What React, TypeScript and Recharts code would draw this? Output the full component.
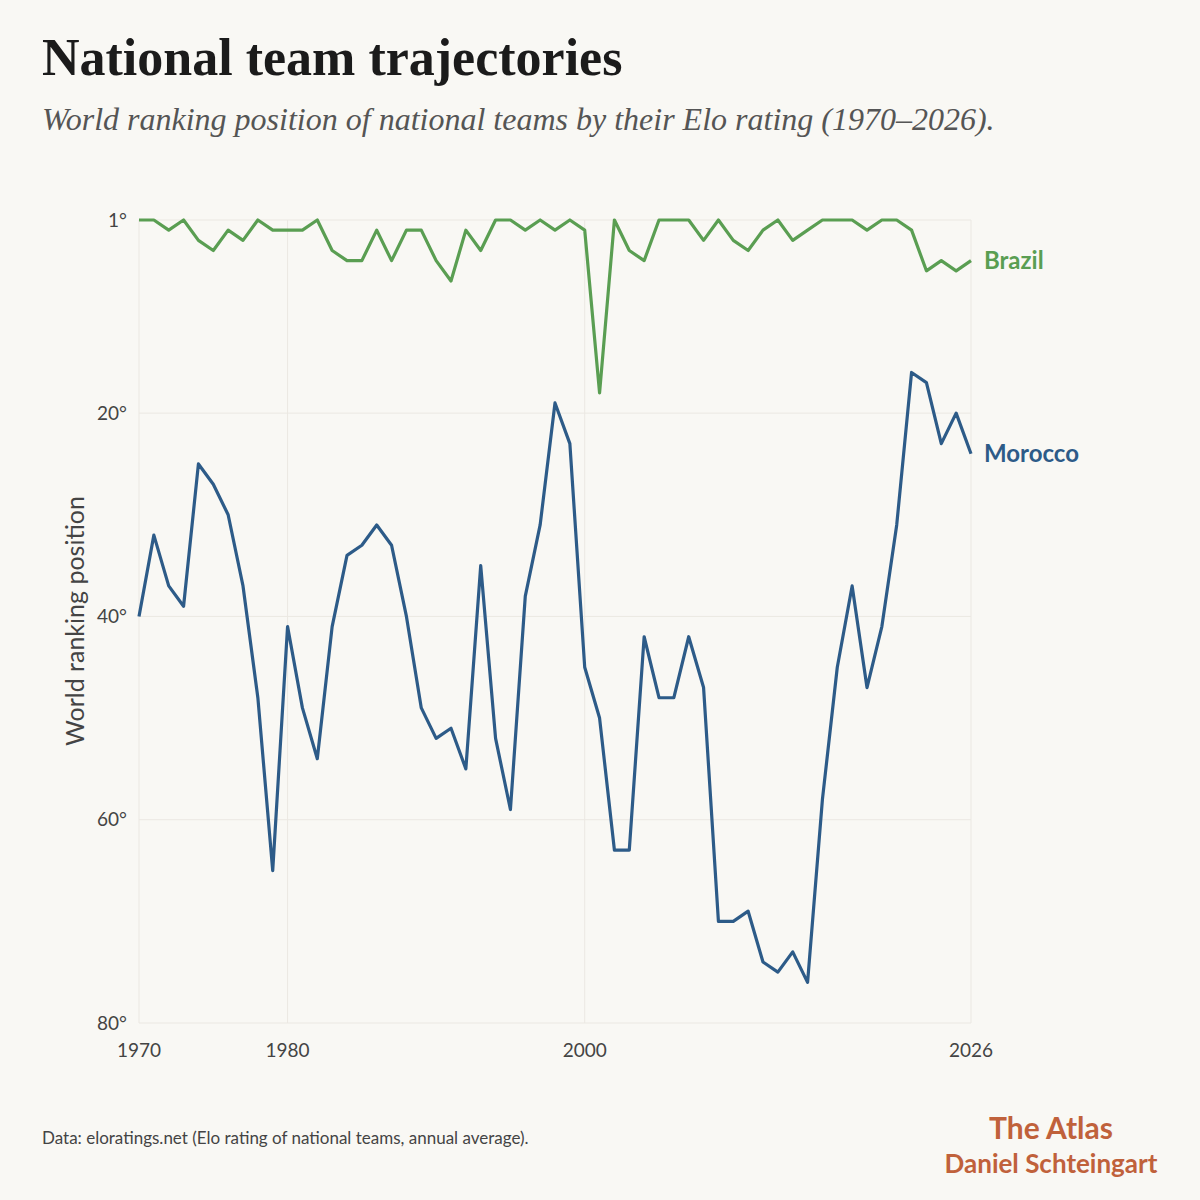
import { CartesianGrid, Line, LineChart, XAxis, YAxis } from "recharts";

const years = [
  1970, 1971, 1972, 1973, 1974, 1975, 1976, 1977, 1978, 1979,
  1980, 1981, 1982, 1983, 1984, 1985, 1986, 1987, 1988, 1989,
  1990, 1991, 1992, 1993, 1994, 1995, 1996, 1997, 1998, 1999,
  2000, 2001, 2002, 2003, 2004, 2005, 2006, 2007, 2008, 2009,
  2010, 2011, 2012, 2013, 2014, 2015, 2016, 2017, 2018, 2019,
  2020, 2021, 2022, 2023, 2024, 2025, 2026,
];

const brazil = [
  1, 1, 2, 1, 3, 4, 2, 3, 1, 2,
  2, 2, 1, 4, 5, 5, 2, 5, 2, 2,
  5, 7, 2, 4, 1, 1, 2, 1, 2, 1,
  2, 18, 1, 4, 5, 1, 1, 1, 3, 1,
  3, 4, 2, 1, 3, 2, 1, 1, 1, 2,
  1, 1, 2, 6, 5, 6, 5,
];

const morocco = [
  40, 32, 37, 39, 25, 27, 30, 37, 48, 65,
  41, 49, 54, 41, 34, 33, 31, 33, 40, 49,
  52, 51, 55, 35, 52, 59, 38, 31, 19, 23,
  45, 50, 63, 63, 42, 48, 48, 42, 47, 70,
  70, 69, 74, 75, 73, 76, 58, 45, 37, 47,
  41, 31, 16, 17, 23, 20, 24,
];

const xTicks = [1970, 1980, 2000, 2026];
const yTicks = [1, 20, 40, 60, 80];

const rows = years.map((year, i) => ({
  year,
  brazil: brazil[i],
  morocco: morocco[i],
}));

const bg = "#f9f8f4";
const green = "#5a9e52";
const blue = "#2d5b88";
const sans = "Lato, 'Noto Sans', sans-serif";
const serif = "'Liberation Serif', 'DejaVu Serif', serif";

function EndLabel(props: any & { name: string; color: string }) {
  const { x, y, index, name, color } = props;
  if (x == null || y == null || index !== years.length - 1) return null;
  return (
    <text
      x={x + 13}
      y={y + 8.5}
      fill={color}
      fontSize={24}
      fontWeight={700}
      fontFamily={sans}
    >
      {name}
    </text>
  );
}

export default function App() {
  return (
    <div
      style={{
        position: "absolute",
        left: 0,
        top: 0,
        width: 1200,
        height: 1200,
        background: bg,
        overflow: "hidden",
      }}
    >
      <div style={{ position: "absolute", left: 0, top: 0 }}>
        <LineChart
          width={1200}
          height={1200}
          data={rows}
          margin={{ top: 220, right: 229, bottom: 137, left: 59 }}
        >
          <CartesianGrid stroke="#ebe8e2" strokeWidth={1} />
          <XAxis
            dataKey="year"
            type="number"
            domain={[1970, 2026]}
            ticks={xTicks}
            interval={0}
            height={40}
            axisLine={false}
            tickLine={false}
            tickSize={0}
            tickMargin={21}
            tick={{ fill: "#444", fontSize: 19, fontFamily: sans }}
          />
          <YAxis
            type="number"
            domain={[1, 80]}
            reversed
            ticks={yTicks}
            interval={0}
            width={80}
            axisLine={false}
            tickLine={false}
            tickSize={0}
            tickMargin={12}
            tickFormatter={(v) => `${v}°`}
            tick={{ fill: "#444", fontSize: 19, fontFamily: sans }}
          />
          <Line
            dataKey="brazil"
            type="linear"
            stroke={green}
            strokeWidth={3.2}
            strokeLinejoin="round"
            dot={false}
            isAnimationActive={false}
            label={<EndLabel name="Brazil" color={green} />}
          />
          <Line
            dataKey="morocco"
            type="linear"
            stroke={blue}
            strokeWidth={3.2}
            strokeLinejoin="round"
            dot={false}
            isAnimationActive={false}
            label={<EndLabel name="Morocco" color={blue} />}
          />
        </LineChart>
      </div>
      <svg
        width={1200}
        height={1200}
        style={{ position: "absolute", left: 0, top: 0, pointerEvents: "none" }}
      >
        <text
          x={42}
          y={75}
          fill="#1b1b1b"
          fontSize={52}
          fontWeight={700}
          fontFamily={serif}
        >
          National team trajectories
        </text>
        <text
          x={42}
          y={130}
          fill="#555"
          fontSize={32}
          fontStyle="italic"
          fontFamily={serif}
        >
          World ranking position of national teams by their Elo rating
          (1970–2026).
        </text>
        <text
          transform="translate(84,621) rotate(-90)"
          textAnchor="middle"
          fill="#444"
          fontSize={25}
          fontFamily={sans}
        >
          World ranking position
        </text>
        <text x={42} y={1144} fill="#444" fontSize={17} fontFamily={sans}>
          Data: eloratings.net (Elo rating of national teams, annual average).
        </text>
        <text
          x={1051}
          y={1139}
          textAnchor="middle"
          fill="#c0613b"
          fontSize={30}
          fontWeight={700}
          fontFamily={sans}
        >
          The Atlas
        </text>
        <text
          x={1051}
          y={1173}
          textAnchor="middle"
          fill="#c0613b"
          fontSize={26}
          fontWeight={700}
          fontFamily={sans}
        >
          Daniel Schteingart
        </text>
      </svg>
    </div>
  );
}
